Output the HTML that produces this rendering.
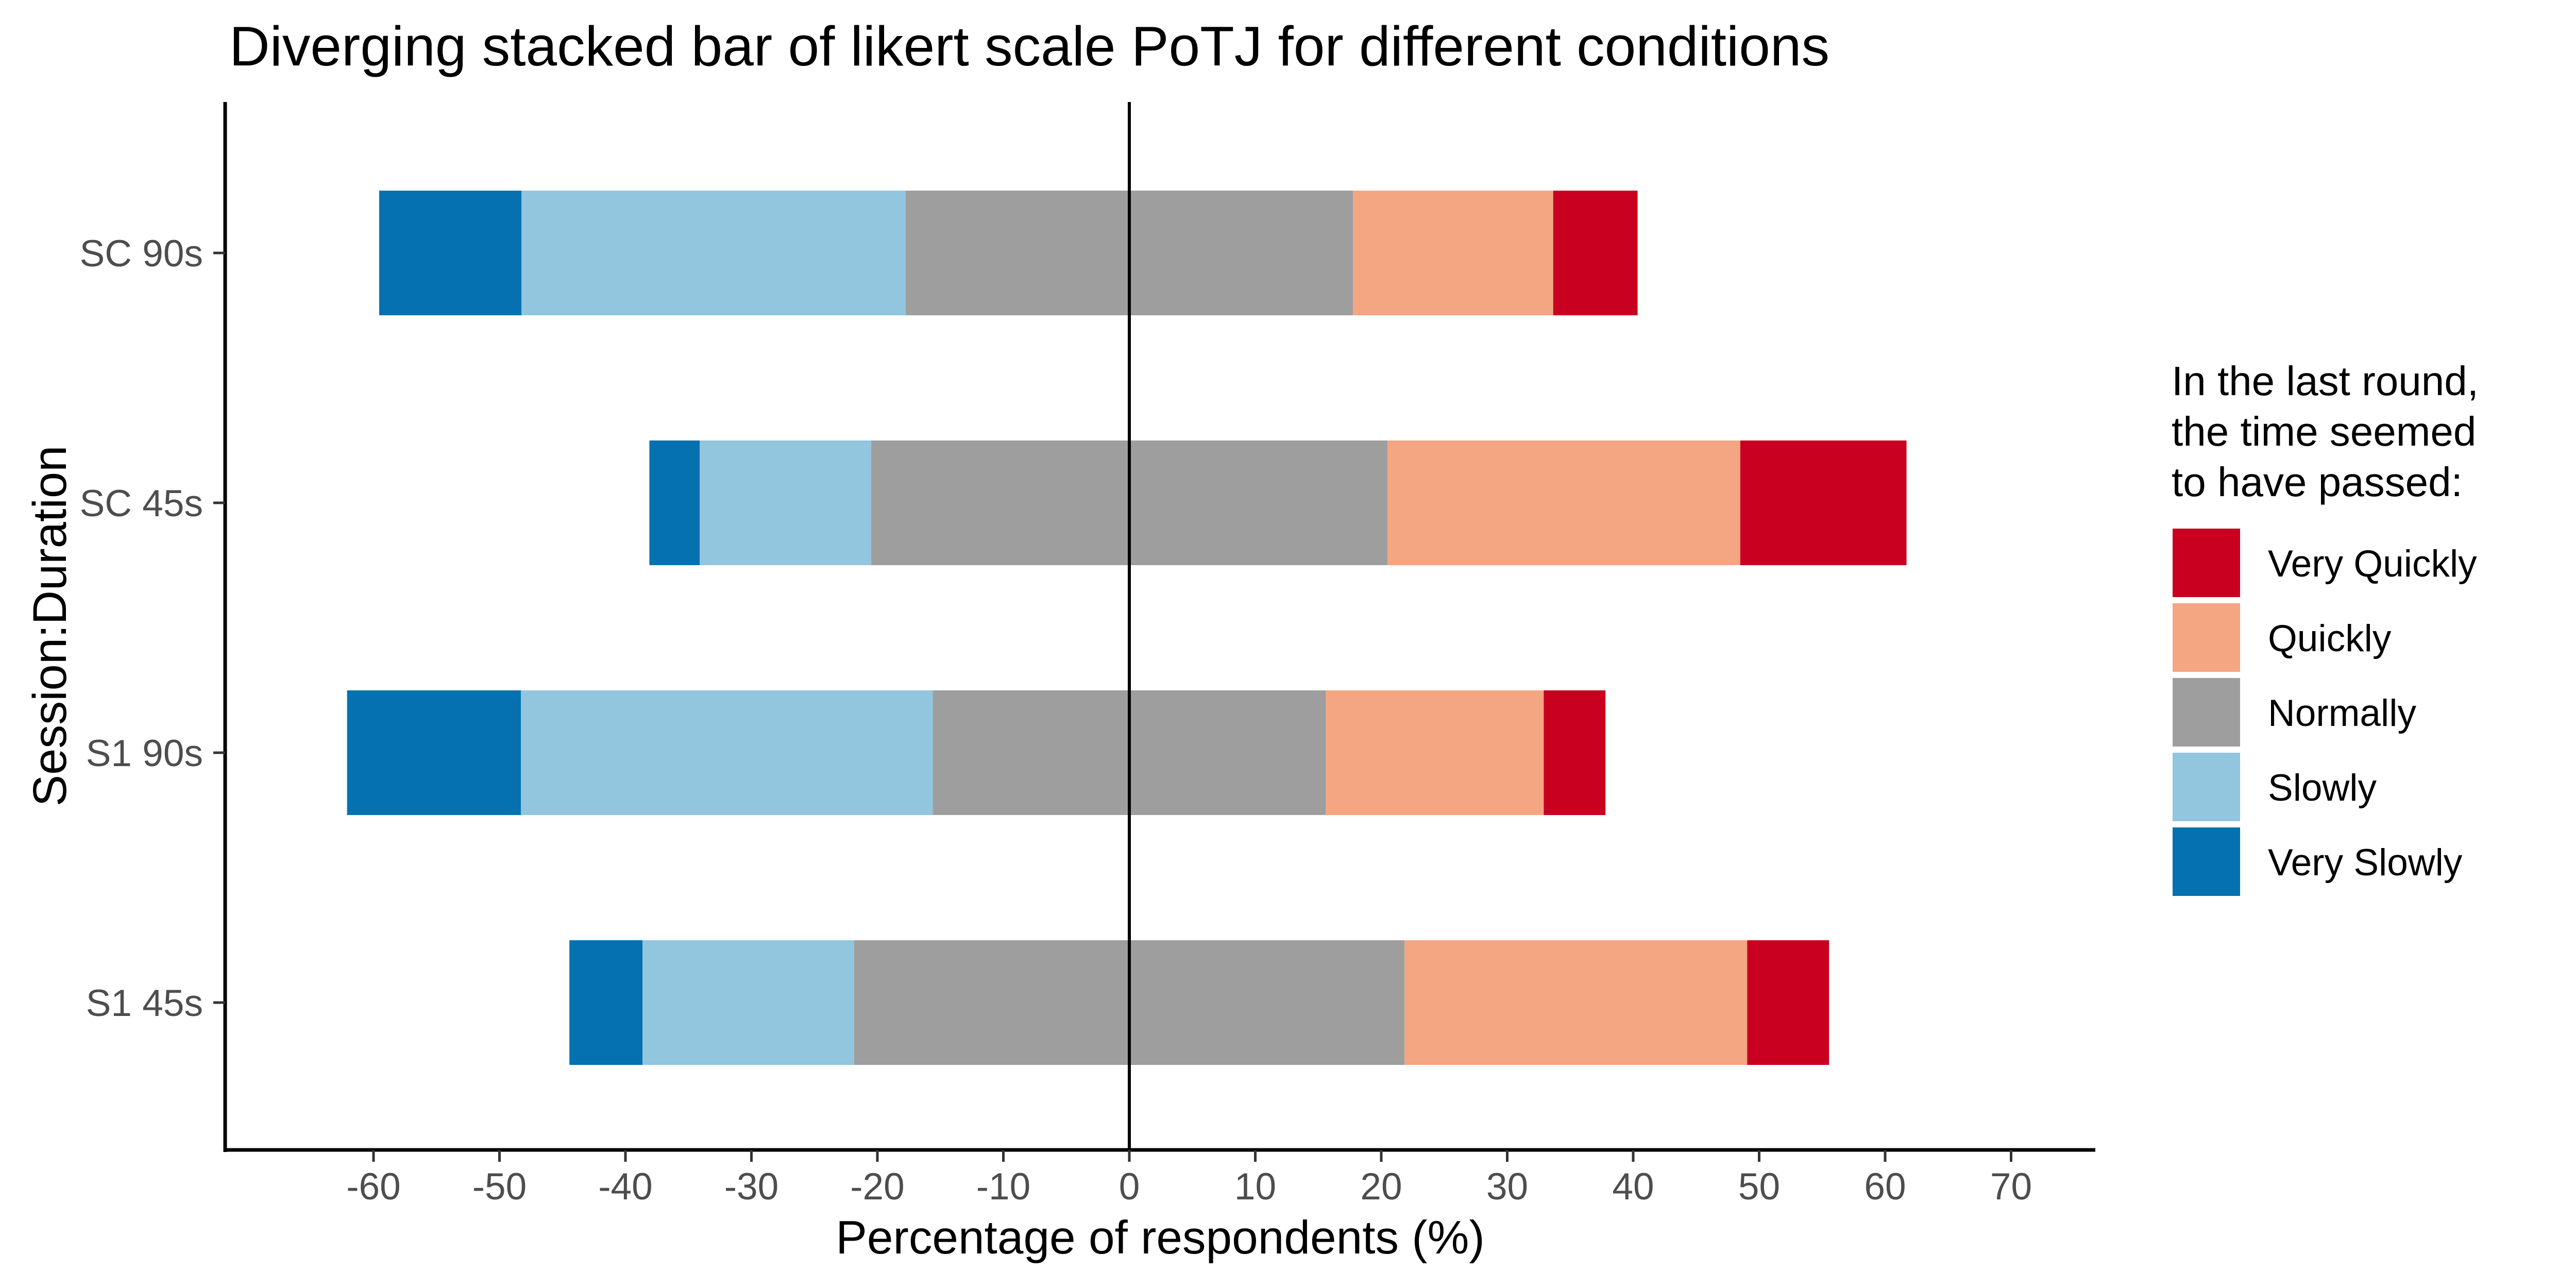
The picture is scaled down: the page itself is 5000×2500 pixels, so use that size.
<!DOCTYPE html>
<html><head><meta charset="utf-8"><style>
html,body{margin:0;padding:0;background:#fff;}
svg{display:block;font-family:"Liberation Sans",Arial,sans-serif;}
</style></head><body>
<svg id="chart" width="5000" height="2500" viewBox="0 0 5000 2500" xmlns="http://www.w3.org/2000/svg">
<rect width="5000" height="2500" fill="#fff"/>
<text x="445" y="127" font-size="109" fill="#000">Diverging stacked bar of likert scale PoTJ for different conditions</text>
<g id="bars"></g>
<g id="axes"></g>
<text x="0" y="0" transform="translate(128,1215) rotate(-90)" font-size="92" text-anchor="middle" fill="#000">Session:Duration</text>
<text x="2252" y="2433" font-size="91" text-anchor="middle" fill="#000">Percentage of respondents (%)</text>
<g id="legend">
<text x="4215" y="767" font-size="80" fill="#000">In the last round,</text>
<text x="4215" y="865" font-size="80" fill="#000">the time seemed</text>
<text x="4215" y="963" font-size="80" fill="#000">to have passed:</text>
</g>
</svg>
<script>
const categories = ["SC 90s","SC 45s","S1 90s","S1 45s"];
const verySlowly = [11.3, 4.0, 13.8, 5.8];
const slowly = [30.5, 13.6, 32.7, 16.8];
const normally = [35.5, 41.0, 31.2, 43.7];
const quickly = [15.9, 28.0, 17.3, 27.2];
const veryQuickly = [6.7, 13.2, 4.9, 6.5];
const xTicks = [-60,-50,-40,-30,-20,-10,0,10,20,30,40,50,60,70];
const legendLabels = ["Very Quickly","Quickly","Normally","Slowly","Very Slowly"];

const NS = "http://www.w3.org/2000/svg";
const colors = {vs:"#0571b0", s:"#92c5de", n:"#9e9e9e", q:"#f4a582", vq:"#ca0020"};
const legendColors = [colors.vq, colors.q, colors.n, colors.s, colors.vs];
function xs(v){ return 2192 + v * 24.45; }
function ys(i){ return 491 + i * 485; }
const halfH = 121;
function mk(tag, attrs, parent){ const e=document.createElementNS(NS,tag); for(const k in attrs) e.setAttribute(k,attrs[k]); parent.appendChild(e); return e; }

const bars = document.getElementById('bars');
categories.forEach((c,i)=>{
  const n2 = normally[i]/2;
  const segs = [
    ["very-slowly", -(n2+slowly[i]+verySlowly[i]), -(n2+slowly[i]), colors.vs],
    ["slowly", -(n2+slowly[i]), -n2, colors.s],
    ["normally", -n2, n2, colors.n],
    ["quickly", n2, n2+quickly[i], colors.q],
    ["very-quickly", n2+quickly[i], n2+quickly[i]+veryQuickly[i], colors.vq]
  ];
  segs.forEach(s=>{
    const r = mk('rect',{x:xs(s[1]), y:ys(i)-halfH, width:xs(s[2])-xs(s[1]), height:2*halfH, fill:s[3]}, bars);
    
    
  });
});

const axes = document.getElementById('axes');
let l = mk('line',{x1:2192,y1:198,x2:2192,y2:2232,stroke:"#000","stroke-width":6},axes);


l = mk('line',{x1:437,y1:198,x2:437,y2:2236,stroke:"#000","stroke-width":7},axes);


l = mk('line',{x1:434,y1:2232,x2:4067,y2:2232,stroke:"#000","stroke-width":7},axes);


xTicks.forEach(t=>{
  const tk = mk('line',{x1:xs(t),y1:2232,x2:xs(t),y2:2255,stroke:"#333","stroke-width":5},axes);
  
  
  const tx = mk('text',{x:xs(t),y:2328,"font-size":73,"text-anchor":"middle",fill:"#4d4d4d"},axes);
  tx.textContent = String(t);
  
  
});
categories.forEach((c,i)=>{
  const tk = mk('line',{x1:414,y1:ys(i),x2:437,y2:ys(i),stroke:"#333","stroke-width":5},axes);
  
  
  const tx = mk('text',{x:394,y:ys(i)+26,"font-size":73,"text-anchor":"end",fill:"#4d4d4d"},axes);
  tx.textContent = c;
  
  
});

const legend = document.getElementById('legend');
legendLabels.forEach((lab,i)=>{
  const y = 1026 + i*145;
  const r = mk('rect',{x:4217,y:y,width:131,height:133,fill:legendColors[i]},legend);
  
  
  const t = mk('text',{x:4402,y:y+93,"font-size":73,fill:"#000"},legend);
  t.textContent = lab;
  
  
});
</script>
</body></html>
